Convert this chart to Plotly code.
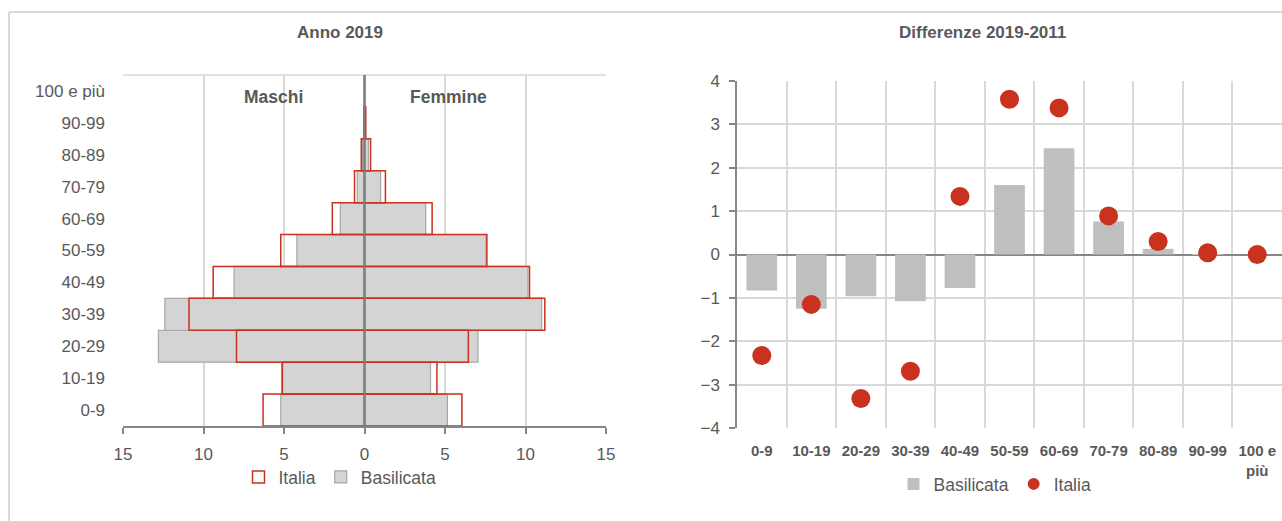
import plotly.graph_objects as go

# ---------------- data ----------------
age_groups = ["0-9", "10-19", "20-29", "30-39", "40-49", "50-59",
              "60-69", "70-79", "80-89", "90-99", "100 e più"]

# Anno 2019 (composizione %, pyramid)
bas_maschi = [5.2, 5.15, 12.8, 12.4, 8.1, 4.2, 1.5, 0.45, 0.13, 0.02, 0.0]
bas_femmine = [5.15, 4.1, 7.05, 11.0, 10.15, 7.55, 3.8, 1.0, 0.25, 0.04, 0.0]
ita_maschi = [6.3, 5.1, 7.95, 10.9, 9.4, 5.2, 2.0, 0.62, 0.2, 0.03, 0.0]
ita_femmine = [6.05, 4.5, 6.45, 11.2, 10.25, 7.6, 4.2, 1.3, 0.38, 0.08, 0.0]

# Differenze 2019-2011
diff_categories = ["0-9", "10-19", "20-29", "30-39", "40-49", "50-59",
                   "60-69", "70-79", "80-89", "90-99", "100 e<br>più"]
diff_basilicata = [-0.83, -1.25, -0.96, -1.08, -0.77, 1.60, 2.45, 0.76, 0.13, 0.01, 0.0]
diff_italia = [-2.33, -1.15, -3.32, -2.69, 1.34, 3.58, 3.38, 0.89, 0.30, 0.04, 0.0]

pyr_ticks = [-15, -10, -5, 0, 5, 10, 15]
pyr_ticktext = [str(abs(v)) for v in pyr_ticks]

# ---------------- style ----------------
FONT = "Liberation Sans, Arial, sans-serif"
TXT = "#595959"
GRID = "#d9d9d9"
AXIS = "#868686"
GREY_FILL = "#d4d4d4"
GREY_LINE = "#a6a6a6"
RED = "#c8321e"
BAR2 = "#bfbfbf"

W, H = 1282, 521

def px_x(p):
    return p / W

def px_y(p):
    return 1 - p / H

fig = go.Figure()

neg_bas_m = [-v for v in bas_maschi]
neg_ita_m = [-v for v in ita_maschi]

# Basilicata (grey filled)
fig.add_trace(go.Bar(y=age_groups, x=neg_bas_m, orientation="h", width=1.0,
                     marker=dict(color=GREY_FILL, line=dict(color=GREY_LINE, width=1.2)),
                     name="Basilicata", legend="legend", legendrank=2,
                     xaxis="x", yaxis="y", showlegend=True))
fig.add_trace(go.Bar(y=age_groups, x=bas_femmine, orientation="h", width=1.0,
                     marker=dict(color=GREY_FILL, line=dict(color=GREY_LINE, width=1.2)),
                     name="Basilicata", legend="legend",
                     xaxis="x", yaxis="y", showlegend=False))
# Italia (red outline)
fig.add_trace(go.Bar(y=age_groups, x=neg_ita_m, orientation="h", width=1.0,
                     marker=dict(color="rgba(0,0,0,0)", line=dict(color=RED, width=1.5)),
                     name="Italia", legend="legend", legendrank=1,
                     xaxis="x", yaxis="y", showlegend=True))
fig.add_trace(go.Bar(y=age_groups, x=ita_femmine, orientation="h", width=1.0,
                     marker=dict(color="rgba(0,0,0,0)", line=dict(color=RED, width=1.5)),
                     name="Italia", legend="legend",
                     xaxis="x", yaxis="y", showlegend=False))

# Right chart
fig.add_trace(go.Bar(x=diff_categories, y=diff_basilicata, width=0.62,
                     marker=dict(color=BAR2, line=dict(width=0)),
                     name="Basilicata", legend="legend2", legendrank=1,
                     xaxis="x2", yaxis="y2"))
fig.add_trace(go.Scatter(x=diff_categories, y=diff_italia, mode="markers",
                         marker=dict(color=RED, size=19),
                         name="Italia", legend="legend2", legendrank=2,
                         xaxis="x2", yaxis="y2"))

fig.update_layout(
    width=W, height=H,
    margin=dict(l=0, r=0, t=0, b=0, autoexpand=False),
    paper_bgcolor="white", plot_bgcolor="white",
    barmode="overlay",
    font=dict(family=FONT, color=TXT, size=17),
    xaxis=dict(domain=[px_x(123), px_x(606)], range=[-15, 15],
               tickvals=pyr_ticks, ticktext=pyr_ticktext,
               showgrid=True, gridcolor=GRID, gridwidth=1.5,
               zeroline=False, showline=True, linecolor=AXIS, linewidth=1.5,
               ticks="outside", ticklen=6, tickcolor=AXIS, tickwidth=1.5,
               tickfont=dict(size=17, color=TXT), anchor="y", automargin=False,
               ticklabelstandoff=6),
    yaxis=dict(domain=[px_y(426), px_y(75)], type="category",
               categoryorder="array", categoryarray=age_groups,
               range=[-0.5, 10.5], showgrid=False, zeroline=False,
               showline=False, ticks="", ticklabelstandoff=17,
               tickfont=dict(size=17, color=TXT), anchor="x", automargin=False),
    xaxis2=dict(domain=[px_x(737), 1.0], type="category",
                categoryorder="array", categoryarray=diff_categories,
                range=[-0.5, 10.5], tickson="boundaries", tickangle=0,
                showgrid=True, gridcolor=GRID, gridwidth=1.5,
                showline=False, ticks="", zeroline=False,
                tickfont=dict(size=15, color=TXT, weight="bold"),
                anchor="y2", ticklabelstandoff=12, automargin=False),
    yaxis2=dict(domain=[px_y(428), px_y(81)], range=[-4, 4], dtick=1,
                showgrid=True, gridcolor=GRID, gridwidth=1.5,
                zeroline=True, zerolinecolor=AXIS, zerolinewidth=2,
                showline=True, linecolor=AXIS, linewidth=1.5,
                ticks="outside", ticklen=6, tickcolor=AXIS, tickwidth=1.5,
                tickfont=dict(size=17, color=TXT), anchor="x2",
                ticklabelstandoff=6, automargin=False),
    legend=dict(orientation="h", x=px_x(340), xanchor="center",
                y=px_y(477), yanchor="middle", font=dict(size=17.5, color=TXT),
                itemwidth=30, tracegroupgap=0, bgcolor="rgba(0,0,0,0)"),
    legend2=dict(orientation="h", x=px_x(995), xanchor="center",
                 y=px_y(484), yanchor="middle", font=dict(size=17.5, color=TXT),
                 itemwidth=30, itemsizing="constant", bgcolor="rgba(0,0,0,0)"),
    showlegend=True,
)

annotations = [
    dict(text="<b>Anno 2019</b>", x=px_x(340), y=px_y(32), xref="paper", yref="paper",
         showarrow=False, font=dict(size=17, color=TXT), xanchor="center", yanchor="middle"),
    dict(text="<b>Differenze 2019-2011</b>", x=px_x(982), y=px_y(32), xref="paper", yref="paper",
         showarrow=False, font=dict(size=17, color=TXT), xanchor="center", yanchor="middle"),
    dict(text="<b>Maschi</b>", x=-5.65, y=px_y(97), xref="x", yref="paper",
         showarrow=False, font=dict(size=17.5, color=TXT), xanchor="center", yanchor="middle"),
    dict(text="<b>Femmine</b>", x=5.2, y=px_y(97), xref="x", yref="paper",
         showarrow=False, font=dict(size=17.5, color=TXT), xanchor="center", yanchor="middle"),
]
fig.update_layout(annotations=annotations)

shapes = [
    # outer frame
    dict(type="line", xref="paper", yref="paper", x0=px_x(9), x1=1.0,
         y0=px_y(12), y1=px_y(12), line=dict(color="#d9d9d9", width=2)),
    dict(type="line", xref="paper", yref="paper", x0=px_x(9), x1=px_x(9),
         y0=px_y(12), y1=0, line=dict(color="#d9d9d9", width=2)),
    # top border of pyramid plot area
    dict(type="line", xref="x domain", yref="y domain", x0=0, x1=1, y0=1, y1=1,
         line=dict(color=GRID, width=1.5), layer="below"),
    # centre line of pyramid
    dict(type="line", xref="x", yref="y domain", x0=0, x1=0, y0=0, y1=1,
         line=dict(color="#7f7f7f", width=1.8), layer="above"),
]
fig.update_layout(shapes=shapes)

fig.write_html("out.html",
               config={"displayModeBar": False},
               post_script="document.body.style.margin='0';"
                           "document.body.style.padding='0';"
                           "document.documentElement.style.overflow='hidden';")
